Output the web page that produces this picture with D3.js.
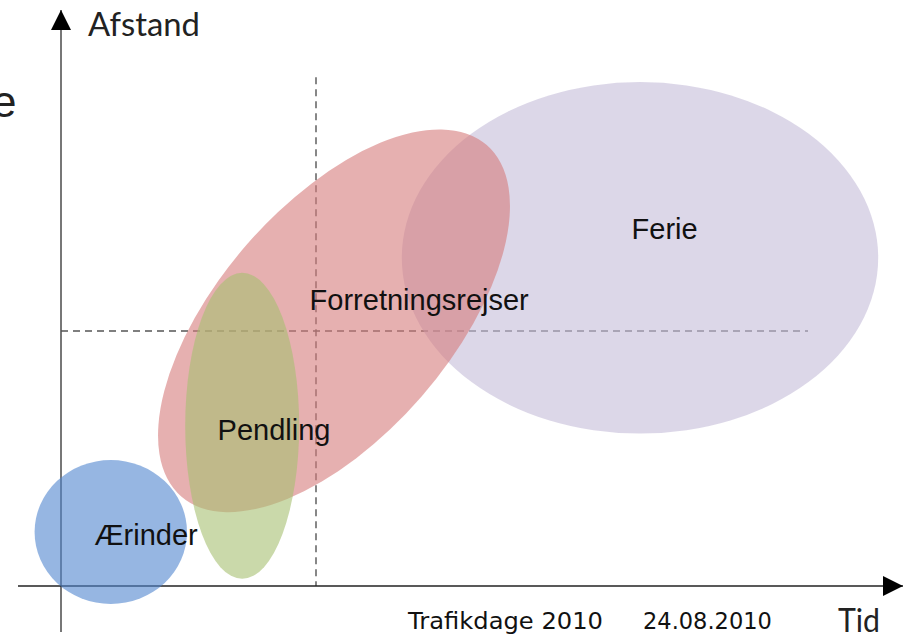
<!DOCTYPE html>
<html>
<head>
<meta charset="utf-8">
<script src="https://cdn.jsdelivr.net/npm/d3@7"></script>
<style>
  body { margin: 0; background: #fff; }
  svg { display: block; }
</style>
</head>
<body>
<svg id="chart" width="904" height="635"></svg>
<script>
// segments: name, centre (tid, afstand), half-axes, rotation in degrees
var names = ["Ferie", "Forretningsrejser", "Pendling", "Ærinder"];
var centerX = [96.5, 45.5, 30.2, 8.3];
var centerY = [54.7, 44.2, 26.7, 9.0];
var radiusX = [39.7, 38.8, 9.5, 12.7];
var radiusY = [29.3, 19.3, 25.5, 12.0];
var rotation = [0, -49, 0, 0];
var colors = ["rgb(197,188,217)", "rgb(213,123,123)", "rgb(167,191,113)", "rgb(80,133,207)"];
var labelX = [100.6, 59.7, 35.5, 14.2];
var labelY = [59.5, 47.7, 26.0, 8.5];

// the dashed split lines
var splitTid = 42.5;
var splitAfstand = 42.5;
var splitTidTop = 84.8;
var splitAfstandEnd = 124.5;

var svg = d3.select("#chart");
var x = d3.scaleLinear().domain([0, 140]).range([61, 901]);
var y = d3.scaleLinear().domain([0, 96]).range([586, 10]);
var unit = x(1) - x(0);

// cut off title letter on the left
svg.append("text")
    .attr("x", -8)
    .attr("y", 117)
    .attr("font-family", "Liberation Sans, Arial, sans-serif")
    .attr("font-size", 44)
    .attr("fill", "#222")
    .text("e");

var defs = svg.append("defs");
defs.append("marker")
    .attr("id", "arrow")
    .attr("viewBox", "0 0 10 10")
    .attr("refX", 10).attr("refY", 5)
    .attr("markerWidth", 22).attr("markerHeight", 20)
    .attr("markerUnits", "userSpaceOnUse")
    .attr("orient", "auto")
    .append("path")
    .attr("d", "M0,0 L10,5 L0,10 Z")
    .attr("fill", "#000");

// dashed lines
svg.append("line")
    .attr("x1", x(splitTid)).attr("x2", x(splitTid))
    .attr("y1", y(splitTidTop)).attr("y2", y(0))
    .attr("stroke", "#555").attr("stroke-width", 1.4)
    .attr("stroke-dasharray", "7,5");
svg.append("line")
    .attr("x1", x(0)).attr("x2", x(splitAfstandEnd))
    .attr("y1", y(splitAfstand)).attr("y2", y(splitAfstand))
    .attr("stroke", "#555").attr("stroke-width", 1.4)
    .attr("stroke-dasharray", "7,5");

// axes
svg.append("line")
    .attr("x1", x(0)).attr("x2", x(0))
    .attr("y1", 632).attr("y2", y(96))
    .attr("stroke", "#555").attr("stroke-width", 1.6)
    .attr("marker-end", "url(#arrow)");
svg.append("line")
    .attr("x1", 18).attr("x2", 903)
    .attr("y1", y(0)).attr("y2", y(0))
    .attr("stroke", "#222").attr("stroke-width", 1.6)
    .attr("marker-end", "url(#arrow)");

// ellipses
svg.selectAll("ellipse.seg")
    .data(names)
    .join("ellipse")
    .attr("class", "seg")
    .attr("cx", 0).attr("cy", 0)
    .attr("rx", (d, i) => radiusX[i] * unit)
    .attr("ry", (d, i) => radiusY[i] * unit)
    .attr("transform", (d, i) => `translate(${x(centerX[i])},${y(centerY[i])}) rotate(${rotation[i]})`)
    .attr("fill", (d, i) => colors[i])
    .attr("fill-opacity", 0.6);

svg.selectAll("text.lbl")
    .data(names)
    .join("text")
    .attr("class", "lbl")
    .attr("x", (d, i) => x(labelX[i]))
    .attr("y", (d, i) => y(labelY[i]))
    .attr("text-anchor", "middle")
    .attr("dominant-baseline", "central")
    .attr("font-family", "Liberation Sans, Arial, sans-serif")
    .attr("font-size", 29)
    .attr("fill", "#111")
    .text(d => d);

// axis titles
svg.append("text")
    .attr("x", 88).attr("y", 36)
    .attr("font-family", "Lato, sans-serif")
    .attr("font-size", 32)
    .attr("fill", "#222")
    .attr("textLength", 112)
    .attr("lengthAdjust", "spacingAndGlyphs")
    .text("Afstand");
svg.append("text")
    .attr("x", 838).attr("y", 632)
    .attr("font-family", "Lato, sans-serif")
    .attr("font-size", 32)
    .attr("fill", "#222")
    .attr("textLength", 42)
    .attr("lengthAdjust", "spacingAndGlyphs")
    .text("Tid");

// footer
svg.append("text")
    .attr("x", 408).attr("y", 629)
    .attr("font-family", "DejaVu Sans, Verdana, sans-serif")
    .attr("font-size", 22.5)
    .attr("fill", "#111")
    .attr("textLength", 195)
    .attr("lengthAdjust", "spacingAndGlyphs")
    .text("Trafikdage 2010");
svg.append("text")
    .attr("x", 643).attr("y", 629)
    .attr("font-family", "DejaVu Sans, Verdana, sans-serif")
    .attr("font-size", 22.5)
    .attr("fill", "#111")
    .text("24.08.2010");
</script>
</body>
</html>
